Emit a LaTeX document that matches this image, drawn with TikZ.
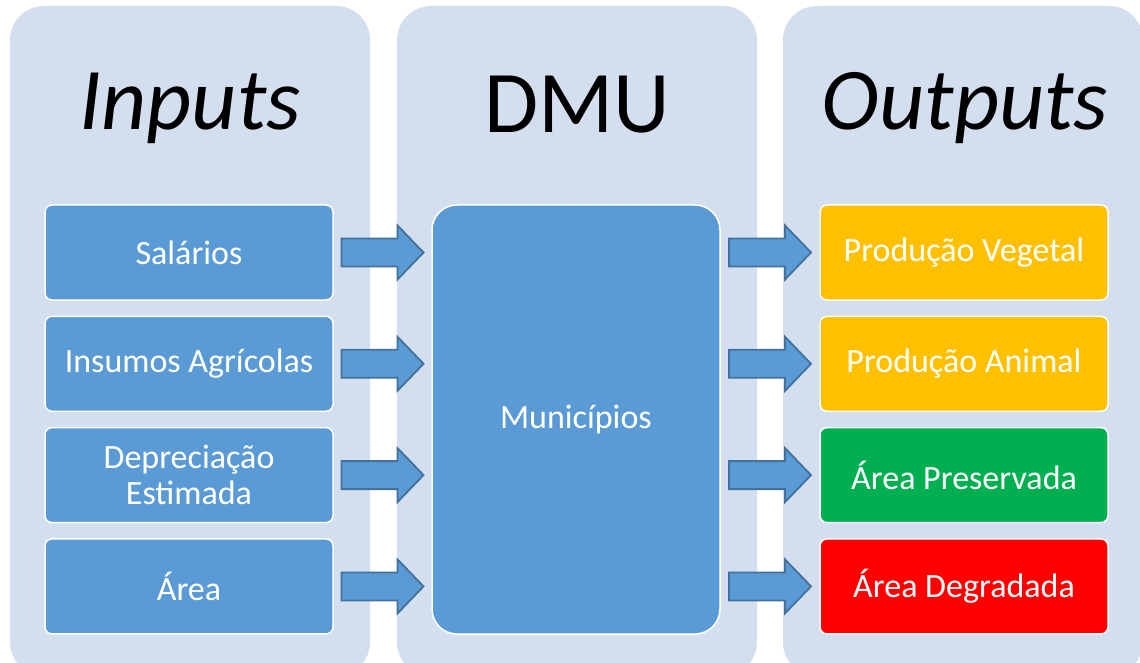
\documentclass[tikz,border=0pt]{standalone}
\usepackage{fontspec}
\setmainfont{Carlito}
\usetikzlibrary{positioning,calc}

\definecolor{panelblue}{HTML}{D3DEEF}
\definecolor{boxblue}{HTML}{5B9BD5}
\definecolor{arrowline}{HTML}{41719C}
\definecolor{outyellow}{HTML}{FFC000}
\definecolor{outgreen}{HTML}{00B050}
\definecolor{outred}{HTML}{FF0000}

\tikzset{
	panel/.style={fill=panelblue,rounded corners=34pt},
	title/.style={font=\fontsize{88}{96}\selectfont},
	box/.style={draw=white,line width=1.5pt,fill=boxblue,rounded corners=7pt,
		minimum width=288pt,minimum height=95pt,text=white,align=center,
		font=\fontsize{34}{36}\selectfont},
	blockarrow/.pic={
		\draw[fill=boxblue,draw=arrowline,line width=1.8pt,line join=miter]
			(-41,-14) -- (15,-14) -- (15,-27) -- (41,0) -- (15,27) -- (15,14) -- (-41,14) -- cycle;
	}
}

\begin{document}
\begin{tikzpicture}[x=1pt,y=-1pt,node distance=14.8pt]
	\clip (0,0) rectangle (1140,663);
	\fill[white] (0,0) rectangle (1140,663);
	\fill[panel] (10,6) rectangle (370,676);
	\fill[panel] (397,6) rectangle (757,676);
	\fill[panel] (783,6) rectangle (1143,676);

	\node[title] (tin) at (190,108) {\itshape Inputs};
	\node[title] (tdmu) at (577,105) {DMU};
	\node[title] (tout) at (965,108) {\itshape Outputs};

	\node[box] (in1) at (189,252.5) {Salários};
	\node[box,below=of in1] (in2) {Insumos Agrícolas};
	\node[box,below=of in2] (in3) {Depreciação\\Estimada};
	\node[box,below=of in3] (in4) {Área};

	\node[box,rounded corners=25pt,minimum height=429pt] (dmu) at (576,419.5) {Municípios};

	\node[box,fill=outyellow] (out1) at (964,252.5) {Produção Vegetal};
	\node[box,fill=outyellow,below=of out1] (out2) {Produção Animal};
	\node[box,fill=outgreen,below=of out2] (out3) {Área Preservada};
	\node[box,fill=outred,below=of out3] (out4) {Área Degradada};

	\pic at ($(in1.east)!0.5!(in1.east -| dmu.west)$) {blockarrow};
	\pic at ($(in2.east)!0.5!(in2.east -| dmu.west)$) {blockarrow};
	\pic at ($(in3.east)!0.5!(in3.east -| dmu.west)$) {blockarrow};
	\pic at ($(in4.east)!0.5!(in4.east -| dmu.west)$) {blockarrow};
	\pic at ($(out1.west -| dmu.east)!0.5!(out1.west)$) {blockarrow};
	\pic at ($(out2.west -| dmu.east)!0.5!(out2.west)$) {blockarrow};
	\pic at ($(out3.west -| dmu.east)!0.5!(out3.west)$) {blockarrow};
	\pic at ($(out4.west -| dmu.east)!0.5!(out4.west)$) {blockarrow};
\end{tikzpicture}
\end{document}
